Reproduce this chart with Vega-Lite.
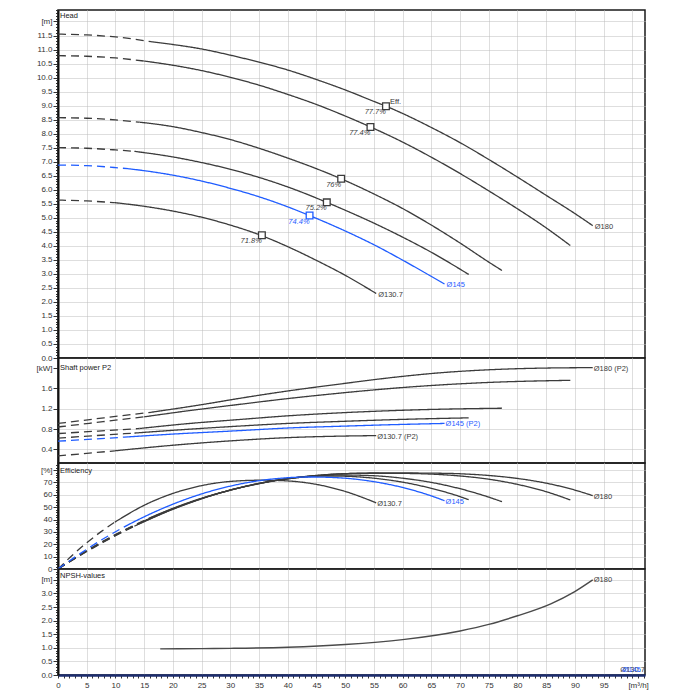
{
  "$schema": "https://vega.github.io/schema/vega-lite/v6.json",
  "autosize": {"type": "pad"},
  "padding": {"left": 0, "top": 5, "right": 4, "bottom": 4},
  "background": "white",
  "config": {
    "view": {"stroke": "#1a1a1a", "strokeWidth": 1.5},
    "font": "Liberation Sans",
    "concat": {"spacing": 0},
    "axis": {"labelFont": "Liberation Sans", "labelFontSize": 8, "labelColor": "#333333", "gridColor": "#bdbdbd", "gridDash": [1, 1], "gridWidth": 1, "tickColor": "#333333", "domainColor": "#111111", "title": null},
    "title": {"anchor": "start", "frame": "group", "offset": -13, "fontSize": 7.5, "fontWeight": "normal", "color": "#222222", "font": "Liberation Sans", "dx": 2},
    "text": {"font": "Liberation Sans"}
  },
  "datasets": {
    "head": [
      {"c":"D180","s":"dash","x":0,"y":11.55},{"c":"D180","s":"dash","x":5,"y":11.52},{"c":"D180","s":"dash","x":10,"y":11.45},{"c":"D180","s":"dash","x":16.2,"y":11.28},
      {"c":"D180","s":"solid","x":16.2,"y":11.28},{"c":"D180","s":"solid","x":20,"y":11.18},{"c":"D180","s":"solid","x":25,"y":11.02},{"c":"D180","s":"solid","x":30,"y":10.8},{"c":"D180","s":"solid","x":35,"y":10.55},{"c":"D180","s":"solid","x":40,"y":10.27},{"c":"D180","s":"solid","x":45,"y":9.93},{"c":"D180","s":"solid","x":50,"y":9.56},{"c":"D180","s":"solid","x":55,"y":9.15},{"c":"D180","s":"solid","x":57.1,"y":8.98},{"c":"D180","s":"solid","x":60,"y":8.72},{"c":"D180","s":"solid","x":65,"y":8.22},{"c":"D180","s":"solid","x":70,"y":7.68},{"c":"D180","s":"solid","x":75,"y":7.08},{"c":"D180","s":"solid","x":80,"y":6.45},{"c":"D180","s":"solid","x":85,"y":5.8},{"c":"D180","s":"solid","x":90,"y":5.15},{"c":"D180","s":"solid","x":93.1,"y":4.72},
      {"c":"D170","s":"dash","x":0,"y":10.78},{"c":"D170","s":"dash","x":5,"y":10.76},{"c":"D170","s":"dash","x":10,"y":10.7},{"c":"D170","s":"dash","x":15,"y":10.59},
      {"c":"D170","s":"solid","x":15,"y":10.59},{"c":"D170","s":"solid","x":20,"y":10.44},{"c":"D170","s":"solid","x":25,"y":10.25},{"c":"D170","s":"solid","x":30,"y":10.01},{"c":"D170","s":"solid","x":35,"y":9.73},{"c":"D170","s":"solid","x":40,"y":9.4},{"c":"D170","s":"solid","x":45,"y":9.04},{"c":"D170","s":"solid","x":50,"y":8.63},{"c":"D170","s":"solid","x":54.4,"y":8.24},{"c":"D170","s":"solid","x":60,"y":7.7},{"c":"D170","s":"solid","x":65,"y":7.16},{"c":"D170","s":"solid","x":70,"y":6.58},{"c":"D170","s":"solid","x":75,"y":5.96},{"c":"D170","s":"solid","x":80,"y":5.32},{"c":"D170","s":"solid","x":85,"y":4.64},{"c":"D170","s":"solid","x":89.2,"y":4.01},
      {"c":"D155","s":"dash","x":0,"y":8.57},{"c":"D155","s":"dash","x":5,"y":8.55},{"c":"D155","s":"dash","x":10,"y":8.49},{"c":"D155","s":"dash","x":14.2,"y":8.41},
      {"c":"D155","s":"solid","x":14.2,"y":8.41},{"c":"D155","s":"solid","x":20,"y":8.25},{"c":"D155","s":"solid","x":25,"y":8.04},{"c":"D155","s":"solid","x":30,"y":7.79},{"c":"D155","s":"solid","x":35,"y":7.48},{"c":"D155","s":"solid","x":40,"y":7.13},{"c":"D155","s":"solid","x":45,"y":6.75},{"c":"D155","s":"solid","x":49.3,"y":6.39},{"c":"D155","s":"solid","x":55,"y":5.85},{"c":"D155","s":"solid","x":60,"y":5.33},{"c":"D155","s":"solid","x":65,"y":4.74},{"c":"D155","s":"solid","x":70,"y":4.1},{"c":"D155","s":"solid","x":75,"y":3.42},{"c":"D155","s":"solid","x":77.3,"y":3.12},
      {"c":"D150","s":"dash","x":0,"y":7.5},{"c":"D150","s":"dash","x":5,"y":7.48},{"c":"D150","s":"dash","x":10,"y":7.42},{"c":"D150","s":"dash","x":13.3,"y":7.37},
      {"c":"D150","s":"solid","x":13.3,"y":7.37},{"c":"D150","s":"solid","x":20,"y":7.17},{"c":"D150","s":"solid","x":25,"y":6.97},{"c":"D150","s":"solid","x":30,"y":6.73},{"c":"D150","s":"solid","x":35,"y":6.44},{"c":"D150","s":"solid","x":40,"y":6.1},{"c":"D150","s":"solid","x":46.8,"y":5.55},{"c":"D150","s":"solid","x":50,"y":5.27},{"c":"D150","s":"solid","x":55,"y":4.81},{"c":"D150","s":"solid","x":60,"y":4.31},{"c":"D150","s":"solid","x":65,"y":3.77},{"c":"D150","s":"solid","x":71.5,"y":2.98},
      {"c":"D130","s":"dash","x":0,"y":5.63},{"c":"D130","s":"dash","x":5,"y":5.6},{"c":"D130","s":"dash","x":9.9,"y":5.54},
      {"c":"D130","s":"solid","x":9.9,"y":5.54},{"c":"D130","s":"solid","x":15,"y":5.41},{"c":"D130","s":"solid","x":20,"y":5.24},{"c":"D130","s":"solid","x":25,"y":5.02},{"c":"D130","s":"solid","x":30,"y":4.74},{"c":"D130","s":"solid","x":35,"y":4.4},{"c":"D130","s":"solid","x":40,"y":3.97},{"c":"D130","s":"solid","x":45,"y":3.48},{"c":"D130","s":"solid","x":50,"y":2.95},{"c":"D130","s":"solid","x":55.4,"y":2.3},
      {"c":"D145","s":"dash","x":0,"y":6.88},{"c":"D145","s":"dash","x":5,"y":6.86},{"c":"D145","s":"dash","x":10,"y":6.79},{"c":"D145","s":"dash","x":12.2,"y":6.75},
      {"c":"D145","s":"solid","x":12.2,"y":6.75},{"c":"D145","s":"solid","x":15,"y":6.68},{"c":"D145","s":"solid","x":20,"y":6.52},{"c":"D145","s":"solid","x":25,"y":6.31},{"c":"D145","s":"solid","x":30,"y":6.05},{"c":"D145","s":"solid","x":35,"y":5.75},{"c":"D145","s":"solid","x":40,"y":5.39},{"c":"D145","s":"solid","x":43.8,"y":5.08},{"c":"D145","s":"solid","x":50,"y":4.53},{"c":"D145","s":"solid","x":55,"y":4.04},{"c":"D145","s":"solid","x":60,"y":3.49},{"c":"D145","s":"solid","x":65,"y":2.91},{"c":"D145","s":"solid","x":67.3,"y":2.64}
    ],
    "power": [
      {"c":"D180","s":"dash","x":0,"y":0.91},{"c":"D180","s":"dash","x":8,"y":1.02},{"c":"D180","s":"dash","x":16.2,"y":1.13},
      {"c":"D180","s":"solid","x":16.2,"y":1.13},{"c":"D180","s":"solid","x":25,"y":1.28},{"c":"D180","s":"solid","x":31.9,"y":1.41},{"c":"D180","s":"solid","x":40,"y":1.55},{"c":"D180","s":"solid","x":49.3,"y":1.69},{"c":"D180","s":"solid","x":57,"y":1.8},{"c":"D180","s":"solid","x":66.7,"y":1.91},{"c":"D180","s":"solid","x":75.4,"y":1.97},{"c":"D180","s":"solid","x":84.1,"y":2.0},{"c":"D180","s":"solid","x":93.1,"y":2.01},
      {"c":"D170","s":"dash","x":0,"y":0.84},{"c":"D170","s":"dash","x":7.5,"y":0.94},{"c":"D170","s":"dash","x":15,"y":1.04},
      {"c":"D170","s":"solid","x":15,"y":1.04},{"c":"D170","s":"solid","x":22,"y":1.15},{"c":"D170","s":"solid","x":31.9,"y":1.29},{"c":"D170","s":"solid","x":40,"y":1.4},{"c":"D170","s":"solid","x":49.3,"y":1.51},{"c":"D170","s":"solid","x":58,"y":1.6},{"c":"D170","s":"solid","x":66.7,"y":1.67},{"c":"D170","s":"solid","x":75.4,"y":1.72},{"c":"D170","s":"solid","x":89.2,"y":1.76},
      {"c":"D155","s":"dash","x":0,"y":0.71},{"c":"D155","s":"dash","x":7,"y":0.76},{"c":"D155","s":"dash","x":14.2,"y":0.81},
      {"c":"D155","s":"solid","x":14.2,"y":0.81},{"c":"D155","s":"solid","x":22,"y":0.9},{"c":"D155","s":"solid","x":31.9,"y":0.99},{"c":"D155","s":"solid","x":40,"y":1.06},{"c":"D155","s":"solid","x":49.3,"y":1.12},{"c":"D155","s":"solid","x":63,"y":1.18},{"c":"D155","s":"solid","x":77.3,"y":1.21},
      {"c":"D150","s":"dash","x":0,"y":0.62},{"c":"D150","s":"dash","x":6.5,"y":0.67},{"c":"D150","s":"dash","x":13.3,"y":0.72},
      {"c":"D150","s":"solid","x":13.3,"y":0.72},{"c":"D150","s":"solid","x":22,"y":0.79},{"c":"D150","s":"solid","x":31.9,"y":0.86},{"c":"D150","s":"solid","x":40,"y":0.91},{"c":"D150","s":"solid","x":49.3,"y":0.95},{"c":"D150","s":"solid","x":60,"y":0.99},{"c":"D150","s":"solid","x":71.5,"y":1.02},
      {"c":"D130","s":"dash","x":0,"y":0.27},{"c":"D130","s":"dash","x":5,"y":0.32},{"c":"D130","s":"dash","x":9.9,"y":0.37},
      {"c":"D130","s":"solid","x":9.9,"y":0.37},{"c":"D130","s":"solid","x":20,"y":0.48},{"c":"D130","s":"solid","x":31.9,"y":0.58},{"c":"D130","s":"solid","x":40,"y":0.63},{"c":"D130","s":"solid","x":49.3,"y":0.66},{"c":"D130","s":"solid","x":55.4,"y":0.67},
      {"c":"D145","s":"dash","x":0,"y":0.56},{"c":"D145","s":"dash","x":6,"y":0.6},{"c":"D145","s":"dash","x":12.2,"y":0.645},
      {"c":"D145","s":"solid","x":12.2,"y":0.645},{"c":"D145","s":"solid","x":20,"y":0.7},{"c":"D145","s":"solid","x":31.9,"y":0.77},{"c":"D145","s":"solid","x":40,"y":0.82},{"c":"D145","s":"solid","x":49.3,"y":0.855},{"c":"D145","s":"solid","x":58,"y":0.885},{"c":"D145","s":"solid","x":67.3,"y":0.91}
    ],
    "eff": [
      {"c":"D180","s":"dash","x":0,"y":0},{"c":"D180","s":"dash","x":2.5,"y":7.6},{"c":"D180","s":"dash","x":5,"y":14.8},{"c":"D180","s":"dash","x":10,"y":27.9},{"c":"D180","s":"dash","x":16.2,"y":41.8},
      {"c":"D180","s":"solid","x":16.2,"y":41.8},{"c":"D180","s":"solid","x":20,"y":49.0},{"c":"D180","s":"solid","x":25,"y":57.2},{"c":"D180","s":"solid","x":30,"y":63.8},{"c":"D180","s":"solid","x":35,"y":69.0},{"c":"D180","s":"solid","x":40,"y":72.9},{"c":"D180","s":"solid","x":45,"y":75.5},{"c":"D180","s":"solid","x":50,"y":77.1},{"c":"D180","s":"solid","x":57.1,"y":77.7},{"c":"D180","s":"solid","x":65,"y":77.5},{"c":"D180","s":"solid","x":70,"y":77.0},{"c":"D180","s":"solid","x":75,"y":75.6},{"c":"D180","s":"solid","x":80,"y":73.2},{"c":"D180","s":"solid","x":85,"y":69.4},{"c":"D180","s":"solid","x":90,"y":63.8},{"c":"D180","s":"solid","x":93.1,"y":59.3},
      {"c":"D170","s":"dash","x":0,"y":0},{"c":"D170","s":"dash","x":2.5,"y":7.5},{"c":"D170","s":"dash","x":5,"y":14.6},{"c":"D170","s":"dash","x":10,"y":27.6},{"c":"D170","s":"dash","x":15,"y":38.9},
      {"c":"D170","s":"solid","x":15,"y":38.9},{"c":"D170","s":"solid","x":20,"y":48.8},{"c":"D170","s":"solid","x":25,"y":57.0},{"c":"D170","s":"solid","x":30,"y":63.8},{"c":"D170","s":"solid","x":35,"y":69.1},{"c":"D170","s":"solid","x":40,"y":73.1},{"c":"D170","s":"solid","x":45,"y":75.7},{"c":"D170","s":"solid","x":50,"y":77.1},{"c":"D170","s":"solid","x":54.4,"y":77.4},{"c":"D170","s":"solid","x":60,"y":77.3},{"c":"D170","s":"solid","x":65,"y":76.7},{"c":"D170","s":"solid","x":70,"y":75.2},{"c":"D170","s":"solid","x":75,"y":72.6},{"c":"D170","s":"solid","x":80,"y":68.4},{"c":"D170","s":"solid","x":85,"y":62.5},{"c":"D170","s":"solid","x":89.2,"y":55.8},
      {"c":"D155","s":"dash","x":0,"y":0},{"c":"D155","s":"dash","x":2.5,"y":7.3},{"c":"D155","s":"dash","x":5,"y":14.3},{"c":"D155","s":"dash","x":10,"y":27.2},{"c":"D155","s":"dash","x":14.2,"y":36.8},
      {"c":"D155","s":"solid","x":14.2,"y":36.8},{"c":"D155","s":"solid","x":20,"y":48.4},{"c":"D155","s":"solid","x":25,"y":56.9},{"c":"D155","s":"solid","x":30,"y":63.8},{"c":"D155","s":"solid","x":35,"y":69.2},{"c":"D155","s":"solid","x":40,"y":73.1},{"c":"D155","s":"solid","x":45,"y":75.3},{"c":"D155","s":"solid","x":49.3,"y":76.0},{"c":"D155","s":"solid","x":55,"y":75.4},{"c":"D155","s":"solid","x":60,"y":73.4},{"c":"D155","s":"solid","x":65,"y":70.0},{"c":"D155","s":"solid","x":70,"y":64.9},{"c":"D155","s":"solid","x":75,"y":58.1},{"c":"D155","s":"solid","x":77.3,"y":54.4},
      {"c":"D150","s":"dash","x":0,"y":0},{"c":"D150","s":"dash","x":2.5,"y":7.2},{"c":"D150","s":"dash","x":5,"y":14.1},{"c":"D150","s":"dash","x":10,"y":26.9},{"c":"D150","s":"dash","x":13.3,"y":34.6},
      {"c":"D150","s":"solid","x":13.3,"y":34.6},{"c":"D150","s":"solid","x":20,"y":48.3},{"c":"D150","s":"solid","x":25,"y":56.8},{"c":"D150","s":"solid","x":30,"y":63.8},{"c":"D150","s":"solid","x":35,"y":69.2},{"c":"D150","s":"solid","x":40,"y":73.0},{"c":"D150","s":"solid","x":46.8,"y":75.2},{"c":"D150","s":"solid","x":50,"y":75.0},{"c":"D150","s":"solid","x":55,"y":73.4},{"c":"D150","s":"solid","x":60,"y":70.2},{"c":"D150","s":"solid","x":65,"y":65.2},{"c":"D150","s":"solid","x":70,"y":58.5},{"c":"D150","s":"solid","x":71.5,"y":56.0},
      {"c":"D130","s":"dash","x":0,"y":0},{"c":"D130","s":"dash","x":2.5,"y":11.1},{"c":"D130","s":"dash","x":5,"y":21.2},{"c":"D130","s":"dash","x":7.5,"y":30.2},{"c":"D130","s":"dash","x":9.9,"y":37.9},
      {"c":"D130","s":"solid","x":9.9,"y":37.9},{"c":"D130","s":"solid","x":15,"y":51.5},{"c":"D130","s":"solid","x":20,"y":61.1},{"c":"D130","s":"solid","x":25,"y":67.4},{"c":"D130","s":"solid","x":30,"y":70.8},{"c":"D130","s":"solid","x":35.5,"y":71.8},{"c":"D130","s":"solid","x":40,"y":71.2},{"c":"D130","s":"solid","x":45,"y":68.4},{"c":"D130","s":"solid","x":50,"y":62.7},{"c":"D130","s":"solid","x":55.4,"y":53.5},
      {"c":"D145","s":"dash","x":0,"y":0},{"c":"D145","s":"dash","x":2.5,"y":8.2},{"c":"D145","s":"dash","x":5,"y":16.0},{"c":"D145","s":"dash","x":8.5,"y":26.1},{"c":"D145","s":"dash","x":12.2,"y":35.7},
      {"c":"D145","s":"solid","x":12.2,"y":35.7},{"c":"D145","s":"solid","x":15,"y":42.2},{"c":"D145","s":"solid","x":20,"y":52.4},{"c":"D145","s":"solid","x":25,"y":60.7},{"c":"D145","s":"solid","x":30,"y":67.0},{"c":"D145","s":"solid","x":35,"y":71.4},{"c":"D145","s":"solid","x":40,"y":73.8},{"c":"D145","s":"solid","x":43.8,"y":74.4},{"c":"D145","s":"solid","x":50,"y":73.4},{"c":"D145","s":"solid","x":55,"y":70.6},{"c":"D145","s":"solid","x":60,"y":65.9},{"c":"D145","s":"solid","x":65,"y":59.1},{"c":"D145","s":"solid","x":67.3,"y":55.2}
    ],
    "npsh": [
      {"c":"D180","s":"solid","x":17.8,"y":0.96},{"c":"D180","s":"solid","x":25,"y":0.97},{"c":"D180","s":"solid","x":30,"y":0.98},{"c":"D180","s":"solid","x":40,"y":1.02},{"c":"D180","s":"solid","x":50,"y":1.12},{"c":"D180","s":"solid","x":60,"y":1.3},{"c":"D180","s":"solid","x":70,"y":1.62},{"c":"D180","s":"solid","x":75,"y":1.86},{"c":"D180","s":"solid","x":80,"y":2.18},{"c":"D180","s":"solid","x":85.8,"y":2.62},{"c":"D180","s":"solid","x":89.9,"y":3.06},{"c":"D180","s":"solid","x":93.1,"y":3.5}
    ],
    "bep": [
      {"c":"D180","x":57.1,"y":8.98,"lab":"77.7%"},
      {"c":"D170","x":54.4,"y":8.24,"lab":"77.4%"},
      {"c":"D155","x":49.3,"y":6.39,"lab":"76%"},
      {"c":"D150","x":46.8,"y":5.55,"lab":"75.2%"},
      {"c":"D130","x":35.5,"y":4.38,"lab":"71.8%"},
      {"c":"D145","x":43.8,"y":5.08,"lab":"74.4%"}
    ],
    "ends": [
      {"p":"head","c":"D180","x":93.1,"y":4.72,"t":"Ø180"},
      {"p":"head","c":"D130","x":55.4,"y":2.3,"t":"Ø130.7"},
      {"p":"head","c":"D145","x":67.3,"y":2.64,"t":"Ø145"},
      {"p":"power","c":"D180","x":93.1,"y":2.01,"t":"Ø180 (P2)"},
      {"p":"power","c":"D130","x":55.4,"y":0.67,"t":"Ø130.7 (P2)"},
      {"p":"power","c":"D145","x":67.3,"y":0.91,"t":"Ø145 (P2)"},
      {"p":"eff","c":"D180","x":93.1,"y":59.3,"t":"Ø180"},
      {"p":"eff","c":"D130","x":55.4,"y":53.5,"t":"Ø130.7"},
      {"p":"eff","c":"D145","x":67.3,"y":55.2,"t":"Ø145"},
      {"p":"npsh","c":"D180","x":93.1,"y":3.5,"t":"Ø180"},
      {"p":"npsh0","c":"D130","x":97.9,"y":0,"t":"Ø130.7"},
      {"p":"npsh0","c":"D145","x":98.3,"y":0,"t":"Ø145"}
    ]
  },
  "vconcat": [
    {
      "width": 587, "height": 348,
      "title": {"text": "Head"},
      "encoding": {
        "x": {"field": "x", "type": "quantitative", "scale": {"domain": [0, 102.2], "nice": false, "zero": false},
              "axis": {"values": [5,10,15,20,25,30,35,40,45,50,55,60,65,70,75,80,85,90,95,100], "labels": false, "ticks": false, "domain": false, "grid": true, "title": null}},
        "y": {"field": "y", "type": "quantitative", "scale": {"domain": [0, 12.41], "nice": false, "zero": false},
              "axis": {"values": [0,0.1,0.2,0.3,0.4,0.5,0.6,0.7,0.8,0.9,1,1.1,1.2,1.3,1.4,1.5,1.6,1.7,1.8,1.9,2,2.1,2.2,2.3,2.4,2.5,2.6,2.7,2.8,2.9,3,3.1,3.2,3.3,3.4,3.5,3.6,3.7,3.8,3.9,4,4.1,4.2,4.3,4.4,4.5,4.6,4.7,4.8,4.9,5,5.1,5.2,5.3,5.4,5.5,5.6,5.7,5.8,5.9,6,6.1,6.2,6.3,6.4,6.5,6.6,6.7,6.8,6.9,7,7.1,7.2,7.3,7.4,7.5,7.6,7.7,7.8,7.9,8,8.1,8.2,8.3,8.4,8.5,8.6,8.7,8.8,8.9,9,9.1,9.2,9.3,9.4,9.5,9.6,9.7,9.8,9.9,10,10.1,10.2,10.3,10.4,10.5,10.6,10.7,10.8,10.9,11,11.1,11.2,11.3,11.4,11.5,11.6,11.7,11.8,11.9,12,12.1,12.2,12.3,12.4],
                       "labelExpr": "datum.value == 12 ? '[m]' : (abs(datum.value*2 - round(datum.value*2)) < 0.001 ? format(datum.value, '.1f') : '')",
                       "tickSize": {"condition": {"test": "abs(datum.value*2 - round(datum.value*2)) < 0.001", "value": 5}, "value": 2.5},
                       "gridOpacity": {"condition": {"test": "abs(datum.value*2 - round(datum.value*2)) < 0.001", "value": 1}, "value": 0},
                       "grid": true, "labelPadding": 1, "labelOverlap": false, "labelBound": false, "labelFlush": false, "domainWidth": 2, "minExtent": 57, "title": null}}
      },
      "layer": [
        {"data": {"name": "head"}, "mark": {"type": "line", "interpolate": "monotone"},
         "encoding": {
           "color": {"field": "c", "type": "nominal", "scale": {"domain": ["D180","D170","D155","D150","D130","D145"], "range": ["#3b3b3b","#3b3b3b","#3b3b3b","#3b3b3b","#3b3b3b","#1f5cff"]}, "legend": null},
           "strokeWidth": {"field": "c", "type": "nominal", "scale": {"domain": ["D180","D170","D155","D150","D130","D145"], "range": [1.3,1.3,1.3,1.3,1.3,2]}, "legend": null},
           "strokeDash": {"field": "s", "type": "nominal", "scale": {"domain": ["solid","dash"], "range": [[1,0],[8,5]]}, "legend": null}}},
        {"data": {"name": "bep"}, "mark": {"type": "point", "shape": "square", "size": 45, "filled": false, "fill": "white", "fillOpacity": 1, "opacity": 1},
         "encoding": {
           "color": {"field": "c", "type": "nominal", "scale": {"domain": ["D180","D170","D155","D150","D130","D145"], "range": ["#1a1a1a","#1a1a1a","#1a1a1a","#1a1a1a","#1a1a1a","#1f5cff"]}, "legend": null},
           "strokeWidth": {"field": "c", "type": "nominal", "legend": null}}},
        {"data": {"name": "bep"}, "mark": {"type": "text", "align": "right", "baseline": "middle", "dy": 6, "fontSize": 7.5, "fontStyle": "italic"},
         "encoding": {"text": {"field": "lab"}, "color": {"field": "c", "type": "nominal", "legend": null}}},
        {"data": {"name": "bep"}, "transform": [{"filter": "datum.c == 'D180'"}], "mark": {"type": "text", "align": "left", "baseline": "middle", "dx": 4, "dy": -4, "fontSize": 7.5, "color": "#333333"},
         "encoding": {"text": {"value": "Eff."}}},
        {"data": {"name": "ends"}, "transform": [{"filter": "datum.p == 'head'"}], "mark": {"type": "text", "align": "left", "baseline": "middle", "dx": 2, "dy": 1, "fontSize": 7.5},
         "encoding": {"text": {"field": "t"}, "color": {"field": "c", "type": "nominal", "legend": null}}}
      ]
    },
    {
      "width": 587, "height": 105,
      "title": {"text": "Shaft power P2"},
      "encoding": {
        "x": {"field": "x", "type": "quantitative", "scale": {"domain": [0, 102.2], "nice": false, "zero": false},
              "axis": {"values": [5,10,15,20,25,30,35,40,45,50,55,60,65,70,75,80,85,90,95,100], "labels": false, "ticks": false, "domain": false, "grid": true, "title": null}},
        "y": {"field": "y", "type": "quantitative", "scale": {"domain": [0.13, 2.2], "nice": false, "zero": false},
              "axis": {"values": [0.4, 0.8, 1.2, 1.6, 2.0],
                       "labelExpr": "datum.value == 2 ? '[kW]' : format(datum.value, '.1f')",
                       "tickSize": 5,
                       "gridOpacity": {"condition": {"test": "datum.value < 1.9", "value": 1}, "value": 0},
                       "grid": true, "labelPadding": 1, "labelOverlap": false, "labelBound": false, "labelFlush": false, "domainWidth": 2, "minExtent": 57, "title": null}}
      },
      "layer": [
        {"data": {"name": "power"}, "mark": {"type": "line", "interpolate": "monotone"},
         "encoding": {
           "color": {"field": "c", "type": "nominal", "scale": {"domain": ["D180","D170","D155","D150","D130","D145"], "range": ["#3b3b3b","#3b3b3b","#3b3b3b","#3b3b3b","#3b3b3b","#1f5cff"]}, "legend": null},
           "strokeWidth": {"field": "c", "type": "nominal", "scale": {"domain": ["D180","D170","D155","D150","D130","D145"], "range": [1.3,1.3,1.3,1.3,1.3,2]}, "legend": null},
           "strokeDash": {"field": "s", "type": "nominal", "scale": {"domain": ["solid","dash"], "range": [[1,0],[7,5]]}, "legend": null}}},
        {"data": {"name": "ends"}, "transform": [{"filter": "datum.p == 'power'"}], "mark": {"type": "text", "align": "left", "baseline": "middle", "dx": 1, "dy": 1, "fontSize": 7.5},
         "encoding": {"text": {"field": "t"}, "color": {"field": "c", "type": "nominal", "legend": null}}}
      ]
    },
    {
      "width": 587, "height": 106,
      "title": {"text": "Efficiency"},
      "encoding": {
        "x": {"field": "x", "type": "quantitative", "scale": {"domain": [0, 102.2], "nice": false, "zero": false},
              "axis": {"values": [5,10,15,20,25,30,35,40,45,50,55,60,65,70,75,80,85,90,95,100], "labels": false, "ticks": false, "domain": false, "grid": true, "title": null}},
        "y": {"field": "y", "type": "quantitative", "scale": {"domain": [0, 85.7], "nice": false, "zero": false},
              "axis": {"values": [0,2,4,6,8,10,12,14,16,18,20,22,24,26,28,30,32,34,36,38,40,42,44,46,48,50,52,54,56,58,60,62,64,66,68,70,72,74,76,78,80,82,84],
                       "labelExpr": "datum.value == 80 ? '[%]' : (datum.value % 10 == 0 ? '' + datum.value : '')",
                       "tickSize": {"condition": {"test": "datum.value % 10 == 0", "value": 5}, "value": 2.5},
                       "gridOpacity": {"condition": {"test": "datum.value % 10 == 0", "value": 1}, "value": 0},
                       "grid": true, "labelPadding": 1, "labelOverlap": false, "labelBound": false, "labelFlush": false, "domainWidth": 2, "minExtent": 57, "title": null}}
      },
      "layer": [
        {"data": {"name": "eff"}, "mark": {"type": "line", "interpolate": "monotone"},
         "encoding": {
           "color": {"field": "c", "type": "nominal", "scale": {"domain": ["D180","D170","D155","D150","D130","D145"], "range": ["#2a2a2a","#2a2a2a","#2a2a2a","#2a2a2a","#3b3b3b","#1f5cff"]}, "legend": null},
           "strokeWidth": {"field": "c", "type": "nominal", "scale": {"domain": ["D180","D170","D155","D150","D130","D145"], "range": [1.3,1.3,1.3,1.3,1.1,2]}, "legend": null},
           "strokeDash": {"field": "s", "type": "nominal", "scale": {"domain": ["solid","dash"], "range": [[1,0],[6,4]]}, "legend": null}}},
        {"data": {"name": "ends"}, "transform": [{"filter": "datum.p == 'eff'"}], "mark": {"type": "text", "align": "left", "baseline": "middle", "dx": 1, "dy": 1, "fontSize": 7.5},
         "encoding": {"text": {"field": "t"}, "color": {"field": "c", "type": "nominal", "legend": null}}}
      ]
    },
    {
      "width": 587, "height": 106,
      "title": {"text": "NPSH-values", "offset": -14},
      "encoding": {
        "x": {"field": "x", "type": "quantitative", "scale": {"domain": [0, 102.2], "nice": false, "zero": false},
              "axis": {"values": [0,1,2,3,4,5,6,7,8,9,10,11,12,13,14,15,16,17,18,19,20,21,22,23,24,25,26,27,28,29,30,31,32,33,34,35,36,37,38,39,40,41,42,43,44,45,46,47,48,49,50,51,52,53,54,55,56,57,58,59,60,61,62,63,64,65,66,67,68,69,70,71,72,73,74,75,76,77,78,79,80,81,82,83,84,85,86,87,88,89,90,91,92,93,94,95,96,97,98,99,100,101,102],
                       "labelExpr": "datum.value == 101 ? '[m³/h]' : ((datum.value % 5 == 0 && datum.value < 100) ? '' + datum.value : '')",
                       "tickSize": 3, "labelPadding": 3,
                       "gridOpacity": {"condition": {"test": "datum.value % 5 == 0 && datum.value > 0", "value": 1}, "value": 0},
                       "grid": true, "labelOverlap": false, "labelBound": false, "labelFlush": false,
                       "domainColor": "#1c2d6e", "domainWidth": 2.5, "title": null}},
        "y": {"field": "y", "type": "quantitative", "scale": {"domain": [0, 3.9], "nice": false, "zero": false},
              "axis": {"values": [0,0.1,0.2,0.3,0.4,0.5,0.6,0.7,0.8,0.9,1,1.1,1.2,1.3,1.4,1.5,1.6,1.7,1.8,1.9,2,2.1,2.2,2.3,2.4,2.5,2.6,2.7,2.8,2.9,3,3.1,3.2,3.3,3.4,3.5,3.6,3.7,3.8,3.9],
                       "labelExpr": "datum.value == 3.5 ? '[m]' : (abs(datum.value*2 - round(datum.value*2)) < 0.001 ? format(datum.value, '.1f') : '')",
                       "tickSize": {"condition": {"test": "abs(datum.value*2 - round(datum.value*2)) < 0.001", "value": 5}, "value": 2.5},
                       "gridOpacity": {"condition": {"test": "abs(datum.value*2 - round(datum.value*2)) < 0.001", "value": 1}, "value": 0},
                       "grid": true, "labelPadding": 1, "labelOverlap": false, "labelBound": false, "labelFlush": false, "domainWidth": 2, "minExtent": 57, "title": null}}
      },
      "layer": [
        {"data": {"name": "npsh"}, "mark": {"type": "line", "interpolate": "monotone", "color": "#4a4a4a", "strokeWidth": 1.4}, "encoding": {}},
        {"data": {"name": "ends"}, "transform": [{"filter": "datum.p == 'npsh'"}], "mark": {"type": "text", "align": "left", "baseline": "middle", "dx": 1, "dy": 0, "fontSize": 7.5},
         "encoding": {"text": {"field": "t"}, "color": {"field": "c", "type": "nominal", "scale": {"domain": ["D180","D170","D155","D150","D130","D145"], "range": ["#3b3b3b","#3b3b3b","#3b3b3b","#3b3b3b","#3b3b3b","#1f5cff"]}, "legend": null}}},
        {"data": {"name": "ends"}, "transform": [{"filter": "datum.p == 'npsh0'"}], "mark": {"type": "text", "align": "left", "baseline": "bottom", "dx": 0, "dy": -1, "fontSize": 7.5},
         "encoding": {"text": {"field": "t"}, "color": {"field": "c", "type": "nominal", "legend": null}}}
      ]
    }
  ],
  "bounds": "flush",
  "spacing": 0
}
